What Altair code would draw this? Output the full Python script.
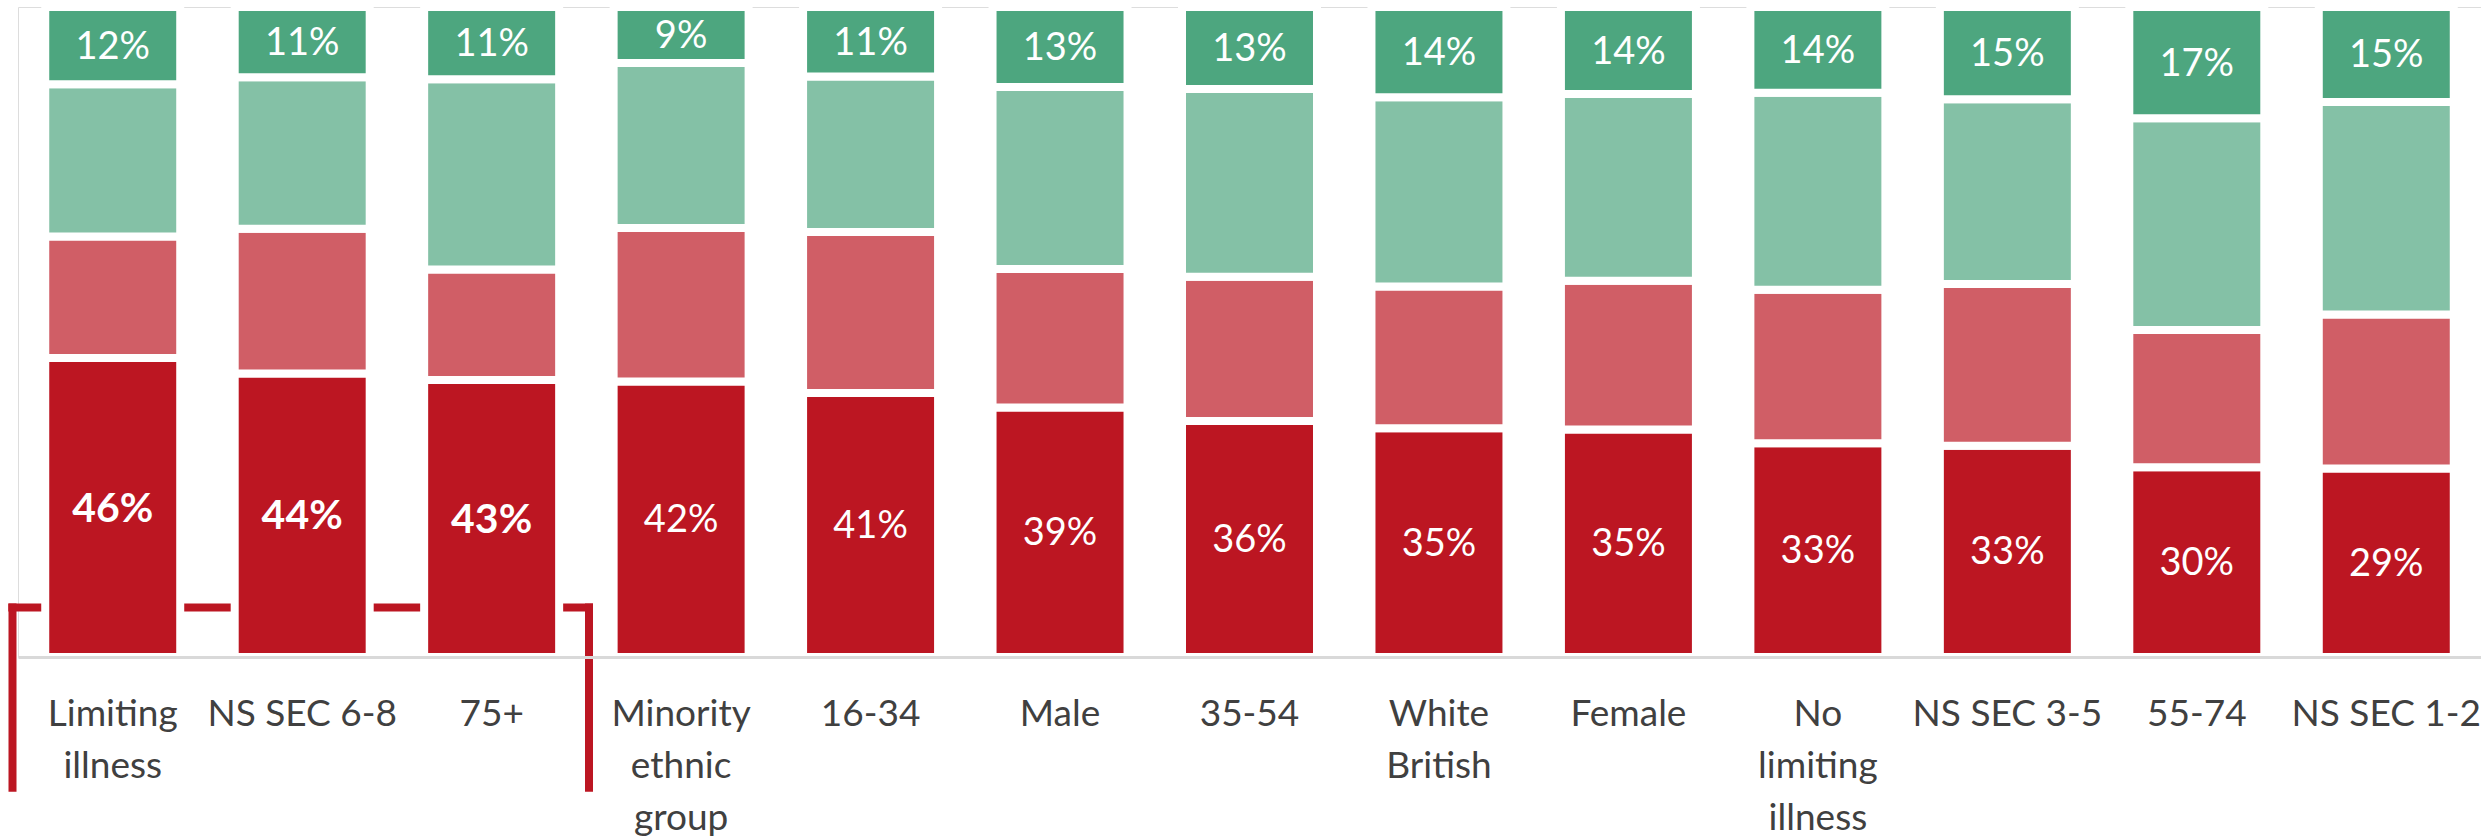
import altair as alt
import pandas as pd

# ---- data ----
categories = ["Limiting\nillness", "NS SEC 6-8", "75+", "Minority\nethnic\ngroup", "16-34", "Male",
              "35-54", "White\nBritish", "Female", "No\nlimiting\nillness", "NS SEC 3-5", "55-74", "NS SEC 1-2"]
highlighted = ["Limiting\nillness", "NS SEC 6-8", "75+"]

segments = ["dark_red", "light_red", "light_green", "dark_green"]
dark_red = [46.0, 43.6, 42.6, 42.4, 40.6, 38.4, 36.3, 35.2, 35.0, 32.9, 32.5, 29.2, 29.0]
light_red = [18.7, 22.3, 17.0, 23.6, 24.8, 21.3, 22.2, 21.8, 22.9, 23.6, 24.9, 21.1, 23.7]
light_green = [23.4, 23.3, 29.3, 25.4, 23.9, 28.0, 28.9, 29.1, 28.7, 30.3, 28.4, 32.6, 32.7]
dark_green = [11.9, 10.8, 11.1, 8.6, 10.7, 12.3, 12.6, 13.9, 13.4, 13.2, 14.2, 17.1, 14.6]

dark_red_labels = [46, 44, 43, 42, 41, 39, 36, 35, 35, 33, 33, 30, 29]
dark_green_labels = [12, 11, 11, 9, 11, 13, 13, 14, 14, 14, 15, 17, 15]

colors = ["#BC1622", "#D05E66", "#84C1A6", "#4DA67F"]

# ---- build table ----
rows = []
series = [dark_red, light_red, light_green, dark_green]
for i, cat in enumerate(categories):
    start = 0.0
    for s, vals in zip(segments, series):
        v = vals[i]
        label = ""
        if s == "dark_red":
            label = f"{dark_red_labels[i]}%"
        elif s == "dark_green":
            label = f"{dark_green_labels[i]}%"
        rows.append({
            "category": cat, "segment": s, "value": v,
            "start": start, "end": start + v, "mid": start + v / 2,
            "label": label, "emph": (cat in highlighted) and s == "dark_red",
        })
        start += v
df = pd.DataFrame(rows)

W, H = 2463, 650

x_enc = alt.X(
    "category:N", sort=categories,
    scale=alt.Scale(paddingInner=0.2875, paddingOuter=0.14375),
    axis=alt.Axis(
        title=None, labelAngle=0, labelFont="Lato", labelFontSize=37, labelColor="#404040",
        labelPadding=39, labelLineHeight=52, labelBaseline="top", labelLimit=0,
        labelExpr="split(datum.label, '\\n')",
        ticks=False, tickSize=0, domainColor="#D9D9D9", domainWidth=3,
        grid=False, zindex=1, labelOverlap=False, labelBound=False, labelFlush=False,
    ),
)
y_scale = alt.Scale(domain=[0, 100], nice=False, zero=True)

base = alt.Chart(df)
one_row = "datum.category == 'NS SEC 6-8' && datum.segment == 'dark_red'"

bracket_h = base.mark_rule(color="#BC1622", strokeWidth=8, strokeCap="butt").encode(
    x=alt.value(-9.7), x2=alt.value(575), y=alt.value(600.5)
).transform_filter(one_row)

bracket_l = base.mark_rule(color="#BC1622", strokeWidth=8, strokeCap="butt").encode(
    x=alt.value(-5.5), y=alt.value(596.5), y2=alt.value(784.7)
).transform_filter(one_row)

bracket_r = base.mark_rule(color="#BC1622", strokeWidth=8, strokeCap="butt").encode(
    x=alt.value(571), y=alt.value(596.5), y2=alt.value(784.7)
).transform_filter(one_row)

bars = base.mark_bar(stroke="white", strokeWidth=8).encode(
    x=x_enc,
    y=alt.Y("start:Q", scale=y_scale, axis=None),
    y2="end:Q",
    color=alt.Color("segment:N", scale=alt.Scale(domain=segments, range=colors), legend=None),
)

txt_normal = base.mark_text(font="Lato", fontSize=38, color="white", baseline="middle", dy=2).encode(
    x=alt.X("category:N", sort=categories),
    y=alt.Y("mid:Q", scale=y_scale),
    text="label:N",
).transform_filter("datum.label != '' && !datum.emph")

txt_bold = base.mark_text(font="Lato", fontSize=41, fontWeight="bold", color="white", baseline="middle", dy=2).encode(
    x=alt.X("category:N", sort=categories),
    y=alt.Y("mid:Q", scale=y_scale),
    text="label:N",
).transform_filter("datum.label != '' && datum.emph")

chart = alt.layer(bracket_h, bars, txt_normal, txt_bold, bracket_l, bracket_r).properties(
    width=W, height=H,
    padding={"left": 18, "top": 7, "right": 0, "bottom": 181},
    autosize=alt.AutoSizeParams(type="none"),
).configure_view(stroke=None).configure(background="white")

chart.save("out.html", embed_options={"renderer": "svg", "actions": False})
